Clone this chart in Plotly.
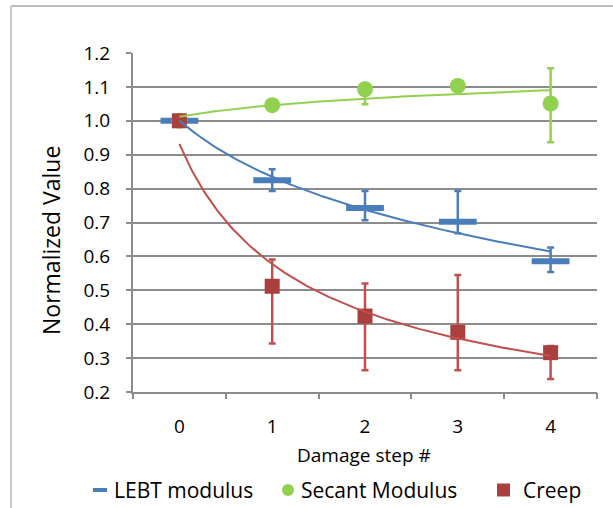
import numpy as np
import plotly.graph_objects as go

steps = [0, 1, 2, 3, 4]
tick_labels = ["0", "1", "2", "3", "4"]

lebt = [1.0, 0.825, 0.743, 0.702, 0.586]
lebt_plus = [0.0, 0.032, 0.050, 0.091, 0.040]
lebt_minus = [0.0, 0.032, 0.036, 0.034, 0.032]

secant = [1.0, 1.046, 1.093, 1.103, 1.051]
secant_plus = [0.0, 0.0, 0.015, 0.010, 0.104]
secant_minus = [0.0, 0.0, 0.044, 0.010, 0.114]

creep = [1.0, 0.512, 0.424, 0.376, 0.316]
creep_plus = [0.0, 0.079, 0.096, 0.169, 0.020]
creep_minus = [0.0, 0.169, 0.160, 0.112, 0.078]

series_names = ["LEBT modulus", "Secant Modulus", "Creep"]
x_title = "Damage step #"
y_title = "Normalized Value"

BLUE = "#4a7ebb"
GREEN = "#92d050"
RED_M = "#a9403d"
RED_L = "#c0504d"
GRID = "#8c8c8c"
FONT = "Open Sans"

W, H = 613, 508
ML, MR, MT, MB = 133, 16, 53, 116
PW, PH = W - ML - MR, H - MT - MB


def px(x):  # page pixel -> paper x
    return (x - ML) / PW


def py(y):  # page pixel -> paper y
    return (H - MB - y) / PH


# Trendlines fitted from the data (Excel uses 1-based index for category x)
idx = np.arange(1, len(steps) + 1, dtype=float)
xs = np.linspace(1, len(steps), 200)
xpos = xs - 1


def log_fit(y):
    b, a = np.polyfit(np.log(idx), np.array(y), 1)
    return a + b * np.log(xs)


def pow_fit(y):
    b, lna = np.polyfit(np.log(idx), np.log(np.array(y)), 1)
    return np.exp(lna) * xs ** b


fig = go.Figure()

fig.add_trace(go.Scatter(
    x=steps, y=lebt, mode="markers", name=series_names[0], showlegend=False,
    marker=dict(symbol="line-ew", size=27, color=BLUE, line=dict(color=BLUE, width=6)),
    error_y=dict(type="data", symmetric=False, array=lebt_plus, arrayminus=lebt_minus,
                 color=BLUE, thickness=2.5, width=3.5),
))
fig.add_trace(go.Scatter(
    x=steps, y=secant, mode="markers", name=series_names[1], showlegend=False,
    marker=dict(symbol="circle", size=16, color=GREEN),
    error_y=dict(type="data", symmetric=False, array=secant_plus, arrayminus=secant_minus,
                 color=GREEN, thickness=2.5, width=3.5),
))
fig.add_trace(go.Scatter(
    x=steps, y=creep, mode="markers", name=series_names[2], showlegend=False,
    marker=dict(symbol="square", size=15, color=RED_M),
    error_y=dict(type="data", symmetric=False, array=creep_plus, arrayminus=creep_minus,
                 color=RED_L, thickness=2.5, width=3.5),
))

fig.add_trace(go.Scatter(x=xpos, y=log_fit(lebt), mode="lines", showlegend=False,
                         line=dict(color=BLUE, width=2), hoverinfo="skip"))
fig.add_trace(go.Scatter(x=xpos, y=log_fit(secant), mode="lines", showlegend=False,
                         line=dict(color=GREEN, width=2), hoverinfo="skip"))
fig.add_trace(go.Scatter(x=xpos, y=pow_fit(creep), mode="lines", showlegend=False,
                         line=dict(color=RED_L, width=2), hoverinfo="skip"))

fig.add_trace(go.Scatter(x=[None], y=[None], xaxis="x2", showlegend=False, hoverinfo="skip"))

# ---- legend drawn as keys + labels ----
LEG_Y = 490
shapes = [
    # chart-area border (top and left)
    dict(type="line", xref="paper", yref="paper", x0=px(11), x1=px(W + 5), y0=py(6), y1=py(6),
         line=dict(color="#a6a6a6", width=1.5)),
    dict(type="line", xref="paper", yref="paper", x0=px(11), x1=px(11), y0=py(H + 5), y1=py(6),
         line=dict(color="#c8c8c8", width=2)),
    # legend keys
    dict(type="line", xref="paper", yref="paper", x0=px(93), x1=px(107), y0=py(LEG_Y), y1=py(LEG_Y),
         line=dict(color=BLUE, width=4)),
    dict(type="circle", xref="paper", yref="paper", x0=px(282), x1=px(294),
         y0=py(LEG_Y + 6), y1=py(LEG_Y - 6), fillcolor=GREEN, line=dict(width=0)),
    dict(type="rect", xref="paper", yref="paper", x0=px(497), x1=px(510),
         y0=py(LEG_Y + 6.5), y1=py(LEG_Y - 6.5), fillcolor=RED_M, line=dict(width=0)),
]
annotations = [
    dict(text=series_names[0], x=px(112), y=py(LEG_Y), xref="paper", yref="paper",
         xanchor="left", yanchor="middle", showarrow=False, font=dict(size=21)),
    dict(text=series_names[1], x=px(299), y=py(LEG_Y), xref="paper", yref="paper",
         xanchor="left", yanchor="middle", showarrow=False, font=dict(size=21)),
    dict(text=series_names[2], x=px(521), y=py(LEG_Y), xref="paper", yref="paper",
         xanchor="left", yanchor="middle", showarrow=False, font=dict(size=21)),
    dict(text=x_title, x=px(364), y=py(455), xref="paper", yref="paper",
         xanchor="center", yanchor="middle", showarrow=False, font=dict(size=19)),
    dict(text=y_title, x=px(51), y=py(241), xref="paper", yref="paper", textangle=-90,
         xanchor="center", yanchor="middle", showarrow=False, font=dict(size=23)),
]

fig.update_layout(
    width=W, height=H,
    margin=dict(l=ML, r=MR, t=MT, b=MB, autoexpand=False),
    paper_bgcolor="white", plot_bgcolor="white",
    font=dict(family=FONT, size=19, color="black"),
    showlegend=False,
    xaxis=dict(
        range=[-0.5, 4.5], tickvals=steps, ticktext=tick_labels,
        showgrid=False, zeroline=False, ticks="",
        showline=True, linecolor=GRID, linewidth=2,
        tickfont=dict(size=19), ticklabelstandoff=16,
    ),
    xaxis2=dict(
        overlaying="x", matches="x", side="bottom", range=[-0.5, 4.5],
        tickvals=[-0.5, 0.5, 1.5, 2.5, 3.5, 4.5], showticklabels=False,
        ticks="outside", ticklen=6, tickwidth=2, tickcolor=GRID,
        showgrid=False, zeroline=False, showline=False,
    ),
    yaxis=dict(
        range=[0.2, 1.2], dtick=0.1, tick0=0.2, tickformat=".1f",
        showgrid=True, gridcolor=GRID, gridwidth=2, zeroline=False,
        ticks="outside", ticklen=5, tickwidth=2, tickcolor=GRID,
        showline=True, linecolor=GRID, linewidth=2,
        tickfont=dict(size=19), ticklabelstandoff=12,
    ),
    shapes=shapes,
    annotations=annotations,
)

fig.write_html("out.html", config={"displayModeBar": False},
               post_script="document.body.style.margin='0';")
